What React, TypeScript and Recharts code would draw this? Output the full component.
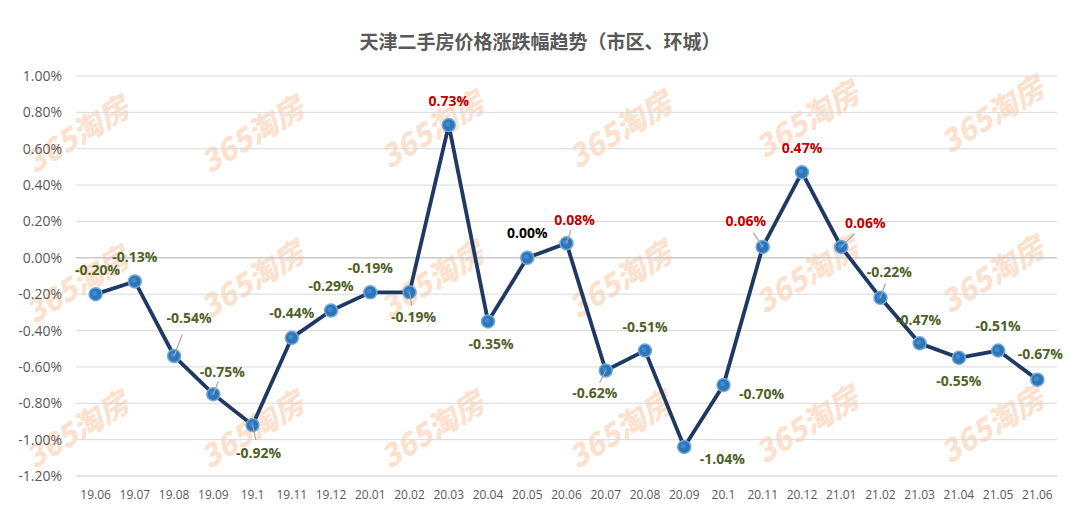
import React from "react";
import {
  LineChart,
  Line,
  CartesianGrid,
  XAxis,
  YAxis,
  ReferenceLine,
} from "recharts";

const months = [
  "19.06", "19.07", "19.08", "19.09", "19.1", "19.11", "19.12", "20.01", "20.02",
  "20.03", "20.04", "20.05", "20.06", "20.07", "20.08", "20.09", "20.1", "20.11",
  "20.12", "21.01", "21.02", "21.03", "21.04", "21.05", "21.06",
];
const changes = [
  -0.2, -0.13, -0.54, -0.75, -0.92, -0.44, -0.29, -0.19, -0.19, 0.73, -0.35, 0.0,
  0.08, -0.62, -0.51, -1.04, -0.7, 0.06, 0.47, 0.06, -0.22, -0.47, -0.55, -0.51, -0.67,
];
const yTicks = [-1.2, -1.0, -0.8, -0.6, -0.4, -0.2, 0, 0.2, 0.4, 0.6, 0.8, 1.0];

// label placement (dx, dy from the point, leader line or not)
const labelPlace: Array<[number, number, boolean]> = [
  [2, -25, false], [0, -25, false], [15, -39, true], [9, -23, true], [6, 27, true],
  [0, -25, false], [0, -25, false], [0, -25, false], [4, 24, true], [0, -25, false],
  [3, 22, false], [0, -25, false], [8, -24, true], [-11, 22, true], [0, -24, false],
  [38, 12, false], [38, 8, false], [-17, -26, true], [0, -25, false], [24, -24, true],
  [9, -26, true], [-1, -24, false], [0, 23, false], [0, -25, false], [3, -26, false],
];

const data = months.map((m, i) => ({ month: m, value: changes[i] }));

const pct = (v: number) => `${v.toFixed(2)}%`;

const PointLabel = (props: any) => {
  const { x, y, index, value } = props;
  const [dx, dy, leader] = labelPlace[index] || [0, -25, false];
  const color = value > 0 ? "#c00000" : value === 0 ? "#000000" : "#4f6228";
  return (
    <g>
      {leader && (
        <line
          x1={x}
          y1={y}
          x2={x + dx * 0.55}
          y2={y + dy * 0.55}
          stroke="#a6a6a6"
          strokeWidth={1.2}
        />
      )}
      <text
        x={x + dx}
        y={y + dy}
        textAnchor="middle"
        dominantBaseline="central"
        fill={color}
        fontSize={14}
        fontWeight="bold"
        fontFamily="'Open Sans', 'Noto Sans', sans-serif"
      >
        {pct(value)}
      </text>
    </g>
  );
};

const Dot = (props: any) => {
  const { cx, cy } = props;
  return (
    <g>
      <circle cx={cx} cy={cy} r={6.5} fill="#2e75b6" stroke="#6fa8dc" strokeWidth={1.5} />
      <circle cx={cx - 1} cy={cy - 1} r={2.5} fill="#3f8ad0" />
    </g>
  );
};

const marks = [
  [75, 130], [250, 130], [430, 125], [618, 125], [805, 115], [990, 110],
  [75, 280], [250, 275], [430, 275], [618, 275], [805, 270], [990, 270],
  [75, 425], [250, 425], [430, 425], [618, 425], [805, 420], [990, 420],
];

export default function App() {
  return (
    <div
      style={{
        position: "relative",
        margin: -8,
        width: 1080,
        height: 521,
        boxSizing: "border-box",
        border: "1px solid #d9d9d9",
        borderTop: "3px solid #d9d9d9",
        background: "#fff",
        overflow: "hidden",
      }}
    >
      <div
        style={{
          position: "absolute",
          top: 24,
          left: 0,
          width: "100%",
          textAlign: "center",
          fontFamily: "'Noto Sans CJK SC', sans-serif",
          fontWeight: "bold",
          fontSize: 19,
          color: "#595959",
        }}
      >
        天津二手房价格涨跌幅趋势（市区、环城）
      </div>
      {marks.map(([mx, my], i) => (
        <div
          key={i}
          style={{
            position: "absolute",
            left: mx - 80,
            top: my - 22,
            width: 160,
            textAlign: "center",
            whiteSpace: "nowrap",
            transform: "rotate(-32deg)",
            fontFamily: "'Noto Sans CJK SC', sans-serif",
            fontWeight: 900,
            fontStyle: "italic",
            fontSize: 30,
            color: "rgba(246, 170, 115, 0.35)",
            pointerEvents: "none",
            zIndex: 0,
          }}
        >
          365淘房
        </div>
      ))}
      <div style={{ position: "absolute", left: -1, top: -3, zIndex: 1 }}>
        <LineChart
          width={1080}
          height={521}
          data={data}
          margin={{ top: 76, right: 23, bottom: 15, left: 0 }}
        >
          <CartesianGrid vertical={false} stroke="#d9d9d9" strokeWidth={1} />
          <XAxis
            dataKey="month"
            padding={{ left: 19.6, right: 19.6 }}
            axisLine={{ stroke: "#d9d9d9" }}
            tickLine={false}
            tickMargin={8}
            height={30}
            interval={0}
            tick={{ fill: "#595959", fontSize: 12, fontFamily: "'Open Sans', sans-serif" }}
          />
          <YAxis
            domain={[-1.2, 1.0]}
            ticks={yTicks}
            tickFormatter={pct}
            width={76}
            axisLine={false}
            tickLine={false}
            tickMargin={8}
            interval={0}
            tick={{ fill: "#595959", fontSize: 14, fontFamily: "'Open Sans', sans-serif" }}
          />
          <ReferenceLine y={0} stroke="#bfbfbf" strokeWidth={1} />
          <Line
            dataKey="value"
            stroke="none"
            dot={false}
            isAnimationActive={false}
            label={<PointLabel />}
          />
          <Line
            dataKey="value"
            stroke="#1f3864"
            strokeWidth={3.8}
            dot={<Dot />}
            activeDot={false}
            isAnimationActive={false}
          />
        </LineChart>
      </div>
    </div>
  );
}
